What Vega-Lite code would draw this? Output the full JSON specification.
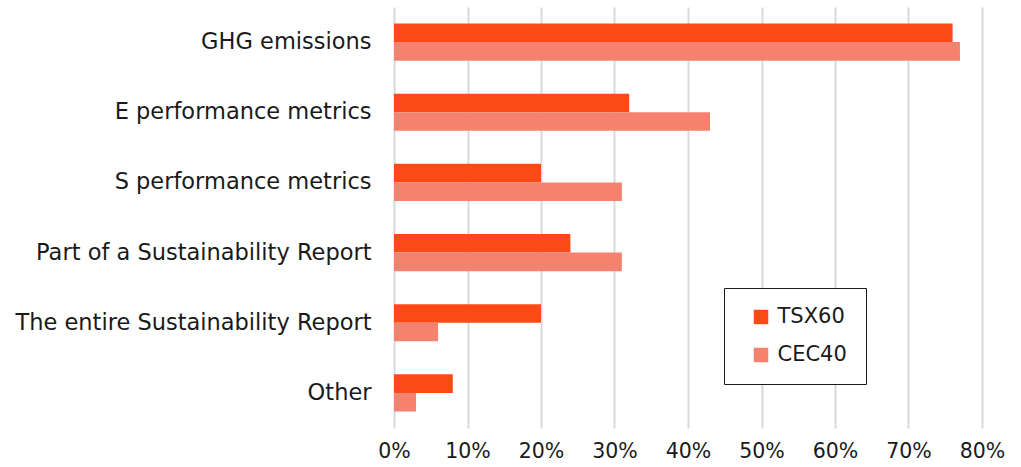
{
  "$schema": "https://vega.github.io/schema/vega-lite/v6.json",
  "autosize": "none",
  "width": 588,
  "height": 421,
  "padding": {"left": 394, "top": 7, "right": 39, "bottom": 39},
  "background": "white",
  "config": {
    "font": "DejaVu Sans",
    "view": {"stroke": null},
    "axis": {"labelFont": "DejaVu Sans", "labelColor": "#1a1a1a"}
  },
  "data": {
    "values": [
      {"category": "GHG emissions", "series": "TSX60", "value": 0.76},
      {"category": "GHG emissions", "series": "CEC40", "value": 0.77},
      {"category": "E performance metrics", "series": "TSX60", "value": 0.32},
      {"category": "E performance metrics", "series": "CEC40", "value": 0.43},
      {"category": "S performance metrics", "series": "TSX60", "value": 0.20},
      {"category": "S performance metrics", "series": "CEC40", "value": 0.31},
      {"category": "Part of a Sustainability Report", "series": "TSX60", "value": 0.24},
      {"category": "Part of a Sustainability Report", "series": "CEC40", "value": 0.31},
      {"category": "The entire Sustainability Report", "series": "TSX60", "value": 0.20},
      {"category": "The entire Sustainability Report", "series": "CEC40", "value": 0.06},
      {"category": "Other", "series": "TSX60", "value": 0.08},
      {"category": "Other", "series": "CEC40", "value": 0.03}
    ]
  },
  "mark": {"type": "bar"},
  "encoding": {
    "y": {
      "field": "category",
      "type": "nominal",
      "sort": ["GHG emissions", "E performance metrics", "S performance metrics", "Part of a Sustainability Report", "The entire Sustainability Report", "Other"],
      "scale": {"paddingInner": 0.47, "paddingOuter": 0.235},
      "axis": {"title": null, "ticks": false, "domain": false, "labelPadding": 23, "labelLimit": 400, "labelFontSize": 22.5}
    },
    "yOffset": {
      "field": "series",
      "type": "nominal",
      "sort": ["TSX60", "CEC40"]
    },
    "x": {
      "field": "value",
      "type": "quantitative",
      "scale": {"domain": [0, 0.8], "nice": false},
      "axis": {
        "title": null,
        "format": ".0%",
        "values": [0, 0.1, 0.2, 0.3, 0.4, 0.5, 0.6, 0.7, 0.8],
        "ticks": false,
        "domain": false,
        "grid": true,
        "gridColor": "#d9d9d9",
        "gridWidth": 2,
        "labelPadding": 13,
        "labelFlush": false,
        "labelFontSize": 20.5
      }
    },
    "color": {
      "field": "series",
      "type": "nominal",
      "sort": ["TSX60", "CEC40"],
      "scale": {"domain": ["TSX60", "CEC40"], "range": ["#FC4A17", "#F4826E"]},
      "legend": {
        "title": null,
        "orient": "none",
        "legendX": 330,
        "legendY": 281,
        "direction": "vertical",
        "symbolType": "square",
        "symbolSize": 210,
        "symbolStrokeWidth": 0,
        "symbolOffset": 8,
        "labelFontSize": 21,
        "labelFont": "DejaVu Sans",
        "labelColor": "#1a1a1a",
        "labelOffset": 6,
        "labelExpr": "datum.label + '   '",
        "rowPadding": 16,
        "padding": 18.5,
        "strokeColor": "#1a1a1a",
        "fillColor": "white",
        "cornerRadius": 0
      }
    }
  }
}
